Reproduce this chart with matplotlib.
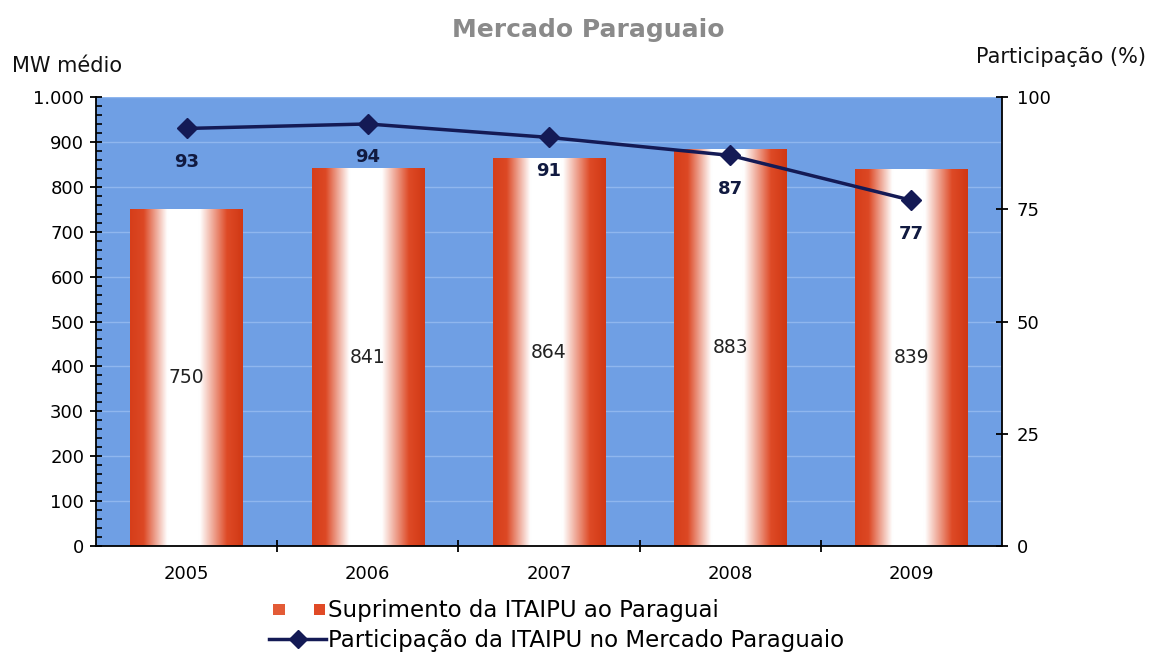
import matplotlib
matplotlib.use("Agg")
import matplotlib.pyplot as plt
import numpy as np
from matplotlib.colors import LinearSegmentedColormap
from matplotlib.legend_handler import HandlerBase
from matplotlib.patches import Rectangle
from matplotlib.lines import Line2D
from matplotlib.ticker import FuncFormatter, MultipleLocator, FixedLocator

# dados
anos = ["2005", "2006", "2007", "2008", "2009"]
suprimento = [750, 841, 864, 883, 839]      # MW medio
participacao = [93, 94, 91, 87, 77]         # %

plt.rcParams["font.family"] = ["DejaVu Sans"]

fig = plt.figure(figsize=(11.55, 6.56), dpi=100)
ax = fig.add_axes([0.0831, 0.1677, 0.7844, 0.6844])
ax.set_facecolor("#6f9fe4")

x = np.arange(len(anos))
bars = ax.bar(x, suprimento, width=0.62, color="none", zorder=2)

# gradiente vermelho-branco-vermelho em cada barra
cmap = LinearSegmentedColormap.from_list(
    "barra",
    [(0.0, "#d63e1a"), (0.12, "#dc4824"), (0.33, "#ffffff"),
     (0.62, "#ffffff"), (0.86, "#de4a26"), (1.0, "#d03814")])
grad = np.linspace(0, 1, 256).reshape(1, -1)
for b in bars:
    x0, w, h = b.get_x(), b.get_width(), b.get_height()
    ax.imshow(grad, cmap=cmap, aspect="auto", extent=(x0, x0 + w, 0, h),
              zorder=2, interpolation="bicubic")
for xi, v in zip(x, suprimento):
    ax.text(xi, v / 2, str(v), ha="center", va="center", fontsize=13.5,
            color="#222222", zorder=4)

ax.set_xlim(-0.5, len(anos) - 0.5)
ax.set_ylim(0, 1000)
ax.yaxis.set_major_locator(MultipleLocator(100))
ax.yaxis.set_minor_locator(MultipleLocator(20))
ax.yaxis.set_major_formatter(FuncFormatter(lambda v, p: f"{int(v):,}".replace(",", ".")))
ax.tick_params(axis="y", which="major", direction="inout", length=9, width=1.3,
               labelsize=13, pad=4)
ax.tick_params(axis="y", which="minor", direction="in", length=4, width=1.2)
ax.set_xticks(x)
ax.set_xticklabels(anos)
ax.xaxis.set_minor_locator(FixedLocator(x[:-1] + 0.5))
ax.tick_params(axis="x", which="major", length=0, labelsize=13, pad=14)
ax.tick_params(axis="x", which="minor", direction="inout", length=8, width=1.3)
ax.grid(axis="y", color="#8fb6ee", linewidth=1, zorder=1)
ax.set_axisbelow(True)
ax.spines["top"].set_visible(False)
ax.spines["right"].set_visible(False)
ax.spines["left"].set_linewidth(1.3)
ax.spines["bottom"].set_linewidth(1.3)

ax2 = ax.twinx()
ax2.set_ylim(0, 100)
ax2.set_yticks([0, 25, 50, 75, 100])
ax2.tick_params(axis="y", direction="inout", length=9, width=1.3, labelsize=13, pad=6)
ax2.spines["top"].set_visible(False)
ax2.spines["left"].set_visible(False)
ax2.spines["bottom"].set_visible(False)
ax2.spines["right"].set_linewidth(1.3)
ax2.plot(x, participacao, color="#141a55", linewidth=2.5, marker="D",
         markersize=10, zorder=5)
for xi, v in zip(x, participacao):
    ax2.annotate(str(v), (xi, v), xytext=(0, -24), textcoords="offset points",
                 ha="center", va="center", fontsize=13, color="#111a40",
                 fontweight="bold", zorder=6)

fig.text(0.509, 0.955, "Mercado Paraguaio", ha="center", va="center",
         fontsize=18, color="#8a8a8a", fontweight="bold")
fig.text(0.01, 0.90, "MW médio", ha="left", va="center", fontsize=15, color="#111111")
fig.text(0.992, 0.913, "Participação (%)", ha="right", va="center", fontsize=15,
         color="#111111")


class DuasCaixas(HandlerBase):
    def create_artists(self, legend, orig, xd, yd, width, height, fontsize, trans):
        s = height * 0.7
        r1 = Rectangle((xd + width * 0.08, yd + (height - s) / 2), s, s,
                       facecolor="#e35b36", edgecolor="none", transform=trans)
        r2 = Rectangle((xd + width * 0.98 - s, yd + (height - s) / 2), s, s,
                       facecolor="#e04a26", edgecolor="none", transform=trans)
        return [r1, r2]


h1 = Rectangle((0, 0), 1, 1)
h2 = Line2D([], [], color="#141a55", linewidth=2.5, marker="D", markersize=9)
fig.legend([h1, h2],
           ["Suprimento da ITAIPU ao Paraguai",
            "Participação da ITAIPU no Mercado Paraguaio"],
           handler_map={h1: DuasCaixas()},
           loc="center", bbox_to_anchor=(0.482, 0.046), frameon=False,
           fontsize=16.5, handlelength=2.5, handletextpad=0.1, labelspacing=0.3,
           borderaxespad=0)

fig.savefig("out.png", dpi=100)
